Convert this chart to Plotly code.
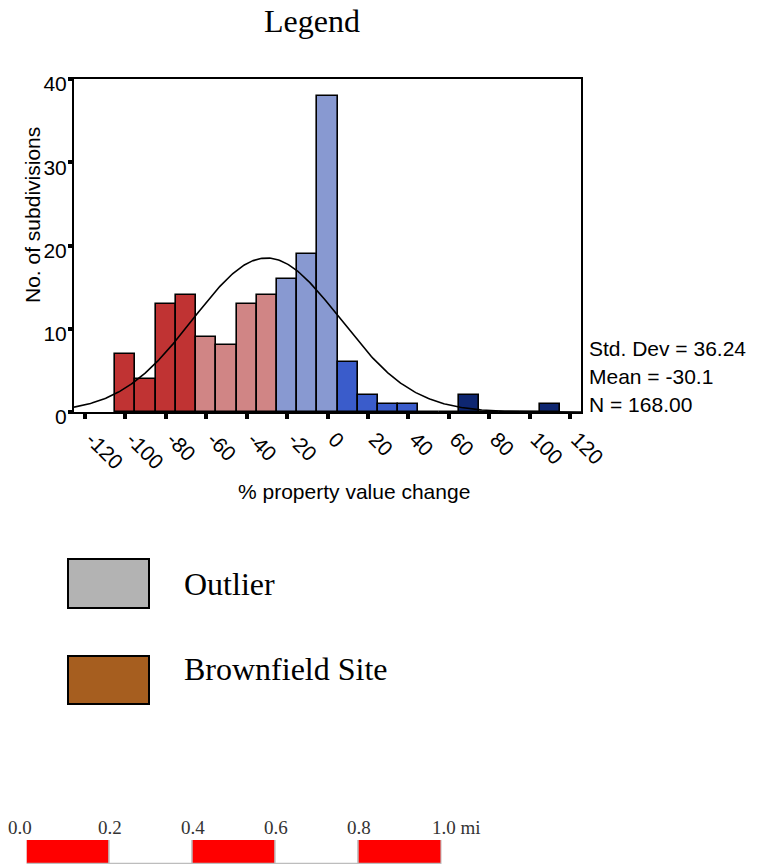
import numpy as np
import plotly.graph_objects as go

# ---- histogram data: % property value change, 10-point bins (bin centres) ----
bin_centers = [-100, -90, -80, -70, -60, -50, -40, -30, -20, -10, 0, 10, 20, 30, 40, 50, 60, 70, 80, 90, 100, 110]
counts      = [7, 4, 13, 14, 9, 8, 13, 14, 16, 19, 38, 6, 2, 1, 1, 0, 0, 2, 0, 0, 0, 1]
bin_class   = ["c1", "c1", "c1", "c1", "c2", "c2", "c2", "c2", "c3", "c3", "c3",
               "c4", "c4", "c4", "c4", "c4", "c5", "c5", "c5", "c5", "c5", "c5"]
class_colors = {"c1": "#C03333", "c2": "#D08585", "c3": "#8899D1", "c4": "#3A5CCB", "c5": "#0E2670"}
bin_width = 10

# summary statistics
std_dev = 36.24
mean_val = -30.1
n_obs = 168

x_tick_vals = [-120, -100, -80, -60, -40, -20, 0, 20, 40, 60, 80, 100, 120]
x_tick_text = ["-120", "-100", "-80", "-60", "-40", "-20", "0", "20", "40", "60", "80", "100", "120"]
y_tick_vals = [0, 10, 20, 30, 40]

# legend entries
legend_labels = ["Outlier", "Brownfield Site"]
legend_colors = ["#B3B3B3", "#A65E1F"]

# scale bar (miles)
scale_centers = [0.1, 0.3, 0.5, 0.7, 0.9]
scale_fill = ["#FF0000", "#FFFFFF", "#FF0000", "#FFFFFF", "#FF0000"]
scale_ticks = [0.0, 0.2, 0.4, 0.6, 0.8, 1.0]
scale_text = ["0.0", "0.2", "0.4", "0.6", "0.8", "1.0 mi"]

# ---- page geometry helpers (pixels -> paper fraction) ----
W, H = 769, 866
def fx(p):
    return p / W
def fy(p):
    return 1 - p / H

SANS = "Liberation Sans, Arial, sans-serif"
SERIF = "Liberation Serif, Times New Roman, serif"

fig = go.Figure()

# histogram bars
fig.add_trace(go.Bar(
    x=bin_centers, y=counts, width=bin_width,
    marker=dict(color=[class_colors[c] for c in bin_class],
                line=dict(color="black", width=1.6)),
    xaxis="x", yaxis="y", showlegend=False, hoverinfo="x+y",
))

# fitted normal curve from the stated mean / sd / N
x_lo, x_hi = -125.4, 125.4
xs = np.linspace(x_lo, x_hi, 400)
ys = n_obs * bin_width / (std_dev * np.sqrt(2 * np.pi)) * np.exp(-0.5 * ((xs - mean_val) / std_dev) ** 2)
fig.add_trace(go.Scatter(x=xs, y=ys, mode="lines", line=dict(color="black", width=1.6),
                         xaxis="x", yaxis="y", showlegend=False, hoverinfo="skip"))

# scale bar segments
fig.add_trace(go.Bar(
    x=scale_centers, y=[1] * len(scale_centers), width=0.2,
    marker=dict(color=scale_fill, line=dict(color="#BDBDBD", width=1.3)),
    xaxis="x2", yaxis="y2", showlegend=False, hoverinfo="skip",
))

def note(text, x, y, **kw):
    d = dict(text=text, x=x, y=y, xref="paper", yref="paper", showarrow=False,
             xanchor="center", yanchor="middle")
    d.update(kw)
    return d

annotations = [
    note("Legend", fx(312), fy(21), font=dict(family=SERIF, size=32, color="black")),
    note("No. of subdivisions", fx(32), fy(215), textangle=-90,
         font=dict(family=SANS, size=21, color="black")),
    note("% property value change", fx(354), fy(491),
         font=dict(family=SANS, size=21, color="black")),
]
for i, line in enumerate([f"Std. Dev = {std_dev:.2f}", f"Mean = {mean_val:.1f}", f"N = {n_obs:.2f}"]):
    annotations.append(note(line, fx(587), fy(348 + 28 * i), xanchor="left",
                            font=dict(family=SANS, size=21, color="black")))

shapes = []
legend_boxes = [(559, 608), (656, 704)]
legend_text_y = [584, 669]
for (top, bot), ty, lab, col in zip(legend_boxes, legend_text_y, legend_labels, legend_colors):
    shapes.append(dict(type="rect", xref="paper", yref="paper",
                       x0=fx(68), x1=fx(149), y0=fy(bot), y1=fy(top),
                       fillcolor=col, line=dict(color="black", width=2)))
    annotations.append(note(lab, fx(182), fy(ty), xanchor="left",
                            font=dict(family=SERIF, size=32, color="black")))

for v, t in zip(scale_ticks, scale_text):
    ann = dict(text=t, x=v, y=fy(827), xref="x2", yref="paper", showarrow=False,
               xanchor="center", yanchor="middle",
               font=dict(family=SERIF, size=19, color="#333333"))
    if t.endswith("mi"):
        ann.update(xanchor="left", xshift=-12)
    elif v == 0:
        ann.update(xshift=-7)
    annotations.append(ann)

fig.update_layout(
    width=W, height=H,
    margin=dict(l=0, r=0, t=0, b=0),
    paper_bgcolor="white", plot_bgcolor="white",
    bargap=0,
    xaxis=dict(domain=[fx(74), fx(581)], range=[x_lo, x_hi],
               tickvals=x_tick_vals, ticktext=x_tick_text, tickangle=45,
               ticks="outside", ticklen=5, tickwidth=4, tickcolor="black",
               showline=True, linecolor="black", linewidth=2, mirror=True,
               showgrid=False, zeroline=False, automargin=False,
               ticklabelshift=7,
               tickfont=dict(family=SANS, size=21, color="black")),
    yaxis=dict(domain=[fy(412), fy(79)], range=[0, 40],
               tickvals=y_tick_vals, ticks="outside", ticklen=4, tickwidth=4, tickcolor="black",
               showline=True, linecolor="black", linewidth=2, mirror=True,
               showgrid=False, zeroline=False, automargin=False, ticklabelstandoff=-3,
               ticklabelshift=5,
               tickfont=dict(family=SANS, size=21, color="black")),
    xaxis2=dict(domain=[fx(26.7), fx(441.7)], range=[0, 1], visible=False, anchor="y2"),
    yaxis2=dict(domain=[fy(864), fy(840)], range=[0, 1], visible=False, anchor="x2"),
    annotations=annotations,
    shapes=shapes,
    showlegend=False,
)

fig.write_html("out.html")
